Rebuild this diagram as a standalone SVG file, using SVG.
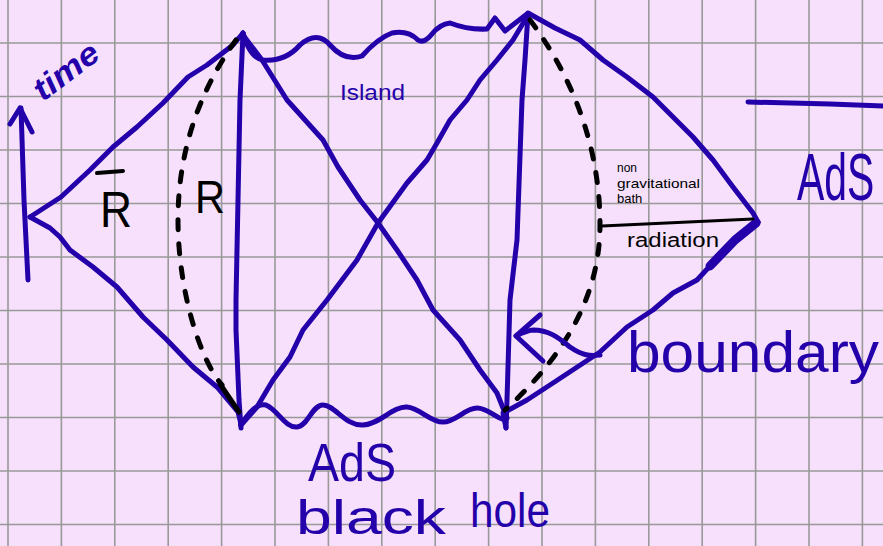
<svg xmlns="http://www.w3.org/2000/svg" width="883" height="546" viewBox="0 0 883 546">
<style>
.grid{stroke:#999;stroke-width:1.6;fill:none}
.pen{stroke:#2300aa;stroke-width:5;fill:none;stroke-linecap:round;stroke-linejoin:round}
.ink{stroke:#000;stroke-width:5;fill:none;stroke-linecap:round;stroke-linejoin:round}
.dash{stroke:#000;stroke-width:5;fill:none;stroke-linecap:round;stroke-dasharray:10 14}
.bt{fill:#2300aa;font-family:"Liberation Sans",Arial,sans-serif}
.kt{fill:#000;font-family:"Liberation Sans",Arial,sans-serif}
</style>
<rect width="883" height="546" fill="#f6e0fb"/>
<g id="grid" class="grid">
<path d="M8,0V546M61.4,0V546M114.8,0V546M168.2,0V546M221.6,0V546M275,0V546M328.4,0V546M381.8,0V546M435.2,0V546M488.6,0V546M542,0V546M595.4,0V546M648.8,0V546M702.2,0V546M755.6,0V546M809,0V546M862.4,0V546"/>
<path d="M0,43H883M0,96.5H883M0,150H883M0,203.5H883M0,257H883M0,310.5H883M0,364H883M0,417.5H883M0,471H883M0,524.5H883"/>
</g>
<g id="connectors">
<path class="pen" d="M30,217 L61,197 L90,170 L113,147 L137,127 L163,103 L188,77 L207,65 L233,45 L243,33"/>
<path class="pen" d="M30,217 L50,228 L60,237 L70,250 L93,267 L117,287 L143,317 L167,340 L193,367 L217,387 L238,412 L241,424"/>
<path class="pen" d="M243,33 L240,100 L238,200 L236,300 L236,330 L239,400 L241,428"/>
<path class="pen" d="M528,14 L525,60 L522,100 L517,240 L510,300 L507,400 L506,428"/>
<path class="pen" d="M243,35 L262,60 L287,100 L323,140 L338,167 L360,200 L378,223 L397,250 L417,280 L433,310 L460,340 L480,370 L497,393 L507,418"/>
<path class="pen" d="M241,425 L257,407 L273,380 L290,357 L303,330 L327,300 L357,260 L378,223 L407,183 L427,160 L437,143 L450,120 L467,100 L480,80 L497,60 L513,40 L528,15"/>
<path class="pen" d="M243,33 Q250,58 263,60 Q285,62 300,45 Q317,30 330,45 Q345,62 362,56 Q378,38 392,33 Q408,30 418,40 Q424,44 432,34 Q440,24 450,23 Q468,30 487,29 L495,18 L505,31 L527,14"/>
<path class="pen" d="M241,425 C250,410 258,403 266,405 C278,410 285,428 297,427 C308,426 312,405 323,405 C335,405 345,426 363,425 C380,424 393,406 407,407 C420,408 430,422 443,422 C456,422 465,408 477,408 C488,408 495,418 505,420"/>
<path class="pen" d="M528,13 L555,28 L580,40 L603,60 L627,77 L653,97 L673,117 L693,137 L713,160 L733,187 L753,213 L758,222"/>
<path class="pen" d="M758,222 L730,245 L710,266 L697,280 L673,293 L653,310 L627,327 L600,352 L553,383 L527,400 L503,413 L506,428"/>
<path class="pen" style="stroke-width:9" d="M756,223 L735,240 L710,266"/>
</g>
<g id="dashed-left">
<path class="dash" d="M236,40 C200,90 178,150 178,220 C178,290 200,360 222,385"/>
<path class="ink" d="M220,384 L239,412"/>
</g>
<g id="dashed-right">
<path class="dash" d="M530,20 C560,60 600,130 600,225 C600,300 560,360 505,410"/>
</g>
<g id="radiation-line">
<path class="ink" style="stroke-width:3" d="M602,226 L753,219"/>
</g>
<g id="time-arrow">
<path class="pen" d="M28,280 L24,200 L21,108"/>
<path class="pen" d="M10,124 L20,108 L32,132"/>
<text class="bt" font-size="32" font-weight="bold" font-style="italic" transform="translate(43,102) rotate(-37)" textLength="74" lengthAdjust="spacingAndGlyphs">time</text>
</g>
<g id="boundary-arrow">
<path class="pen" d="M600,355 C590,356 583,356 570,347 C560,339 550,330 533,330 C525,331 520,334 516,336"/>
<path class="pen" d="M540,315 L516,336 L543,361"/>
</g>
<g id="labels">
<text class="kt" x="100" y="227" font-size="50" textLength="32" lengthAdjust="spacingAndGlyphs">R</text>
<path class="ink" style="stroke-width:4" d="M97,173 L123,171"/>
<text class="kt" x="195" y="213" font-size="46" textLength="30" lengthAdjust="spacingAndGlyphs">R</text>
<text class="bt" x="340" y="100" font-size="22" textLength="65" lengthAdjust="spacingAndGlyphs">Island</text>
<text class="kt" x="617" y="172" font-size="12">non</text>
<text class="kt" x="617" y="188" font-size="13" textLength="83" lengthAdjust="spacingAndGlyphs">gravitational</text>
<text class="kt" x="617" y="203" font-size="13">bath</text>
<text class="kt" x="627" y="247" font-size="20" textLength="92" lengthAdjust="spacingAndGlyphs">radiation</text>
<path class="pen" d="M748,102 L830,104 L883,106"/>
<text class="bt" font-size="66" transform="translate(797,200) scale(0.62,1)">AdS</text>
<text class="bt" x="627" y="372" font-size="58" textLength="252" lengthAdjust="spacingAndGlyphs">boundary</text>
<text class="bt" x="308" y="481" font-size="54" textLength="88" lengthAdjust="spacingAndGlyphs">AdS</text>
<text class="bt" font-size="48"><tspan x="296" y="534" textLength="150" lengthAdjust="spacingAndGlyphs">black</tspan> <tspan x="470" y="527" textLength="80" lengthAdjust="spacingAndGlyphs">hole</tspan></text>
</g>
</svg>
